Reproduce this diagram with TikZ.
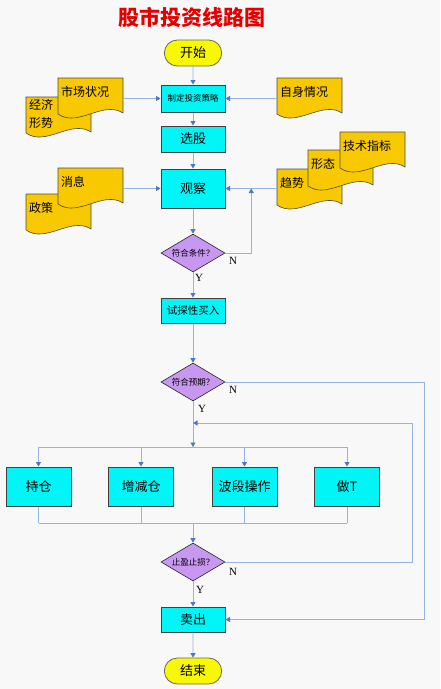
\documentclass[tikz,border=0pt]{standalone}
\usepackage{fontspec}
\setmainfont{Liberation Serif}
\newfontfamily\cjk{Noto Sans CJK SC}
\usetikzlibrary{shapes.geometric, shapes.misc, arrows.meta, calc}
\definecolor{pagegray}{HTML}{F8F8F8}
\definecolor{boxcyan}{HTML}{00F6F6}
\definecolor{termyellow}{HTML}{F8F800}
\definecolor{papergold}{HTML}{F8C800}
\definecolor{decpurple}{HTML}{C898F0}
\definecolor{wireblue}{HTML}{94B4E4}
\definecolor{tipblue}{HTML}{4C78C4}
\tikzset{
wire/.style={draw=wireblue, line width=0.9pt}, % plain connector
flow/.style={wire, -{Triangle[width=5pt,length=4.5pt,color=tipblue]}}, % directed connector
term/.style={rounded rectangle, draw=black!60, line width=0.8pt, fill=termyellow, minimum width=64, minimum height=26, font={\cjk\fontsize{13}{15}\selectfont}}, % start / end
proc/.style={rectangle, draw=black!75, line width=1pt, fill=boxcyan, minimum width=64, minimum height=26, inner sep=1pt, font={\cjk\fontsize{13}{15}\selectfont}}, % process box
dec/.style={diamond, draw=black!85, line width=0.6pt, fill=decpurple, minimum width=64, minimum height=38, aspect=1.7, inner sep=0pt, font={\cjk\fontsize{8.5}{10}\selectfont}}, % decision
paper/.style={draw=black!70, line width=0.6pt, fill=papergold}, % document sheet
paper text/.style={anchor=north west, minimum height=28, text width=59, inner xsep=3, inner ysep=2, align=left, font={\cjk\fontsize{12}{18}\selectfont}}, % text on a sheet
yn/.style={font=\fontsize{11}{11}\selectfont, inner sep=0pt}, % Y / N marks
title/.style={font={\cjk\bfseries\fontsize{21}{21}\selectfont}, text=red!90!black}
}
% sheet with wavy bottom: name, left, top, text
\newcommand\paperdoc[4]{%
  \filldraw[paper, shift={(#2,#3)}] (0,0) -- (65,0) -- (65,35) .. controls (45,22) and (20,50) .. (0,36) -- cycle;
  \node[paper text] (#1) at (#2,#3) {#4};
}

\begin{document}
\begin{tikzpicture}[x=1pt, y=-1pt]
  \fill[pagegray] (0,0) rectangle (440,689);
  \useasboundingbox (0,0) rectangle (440,689);

  \node[title] (heading) at (192,17) {股市投资线路图};

  % main column
  \node[term] (start) at (193,53) {开始};
  \node[proc, minimum height=27, font={\cjk\fontsize{8.5}{10}\selectfont}] (plan) at (193,98.5) {制定投资策略};
  \node[proc] (pick) at (193,139) {选股};
  \node[proc, minimum height=39] (watch) at (193,188.5) {观察};
  \node[dec] (cond) at (193,253) {符合条件？};
  \node[proc, minimum height=25, font={\cjk\fontsize{10.5}{12}\selectfont}] (probe) at (193,310.5) {试探性买入};
  \node[dec] (expect) at (193,382) {符合预期？};
  \foreach \nm/\xx/\txt in {hold/38.5/持仓, resize/141/增减仓, swing/244.5/波段操作, dayt/347/做T}
    \node[proc, minimum width=65, minimum height=39] (\nm) at (\xx,486.5) {\txt};
  \node[dec] (stop) at (193,562) {止盈止损？};
  \node[proc, minimum height=25] (sell) at (193,619.5) {卖出};
  \node[term] (finish) at (193,671) {结束};

  % sheets, back ones first
  \paperdoc{econ}{26}{97}{经济\\形势}
  \paperdoc{market}{58}{78}{市场状况}
  \paperdoc{self}{277}{78}{自身情况}
  \paperdoc{policy}{26}{194}{政策}
  \paperdoc{news}{58}{168}{消息}
  \paperdoc{trend}{277}{169}{趋势}
  \paperdoc{form}{308}{150}{形态}
  \paperdoc{tech}{340}{132}{技术指标}

  % junction points
  \coordinate (jA) at ($(watch.east)!.5!(trend.west |- watch)$);
  \coordinate (split) at (193,447);
  \coordinate (merge) at (193,523);
  \coordinate (rimA) at (424,382);
  \coordinate (rimB) at (412,423);
  \coordinate (back) at (193,423);

  \draw[flow] (start) -- (plan);
  \draw[flow] (market.east |- plan) -- (plan);
  \draw[flow] (self.west |- plan) -- (plan);
  \draw[flow] (plan) -- (pick);
  \draw[flow] (pick) -- (watch);
  \draw[flow] (news.east |- watch) -- (watch);
  \draw[flow] (trend.west |- watch) -- (watch);
  \draw[flow] (watch) -- (cond);
  \draw[flow] (cond.east) -| (jA);
  \draw[flow] (cond) -- (probe);
  \draw[flow] (probe) -- (expect);
  \draw[flow] (expect.east) -- (rimA) |- (sell.east);
  \draw[flow] (expect) -- (split);
  \draw[wire] (hold.north |- split) -- (dayt.north |- split);
  \draw[wire] (hold.south |- merge) -- (dayt.south |- merge);
  \foreach \nm in {hold, resize, swing, dayt} {
    \draw[flow] (\nm.north |- split) -- (\nm);
    \draw[wire] (\nm) -- (\nm.south |- merge);
  }
  \draw[flow] (merge) -- (stop);
  \draw[flow] (stop.east) -| (rimB) -- (back);
  \draw[flow] (stop) -- (sell);
  \draw[flow] (sell) -- (finish);

  % Y / N marks
  \node[yn] (n1) at (233,261) {N};
  \node[yn] (y1) at (199,278) {Y};
  \node[yn] (n2) at (233,390) {N};
  \node[yn] (y2) at (202,409) {Y};
  \node[yn] (n3) at (233,572) {N};
  \node[yn] (y3) at (200,590) {Y};
\end{tikzpicture}
\end{document}
